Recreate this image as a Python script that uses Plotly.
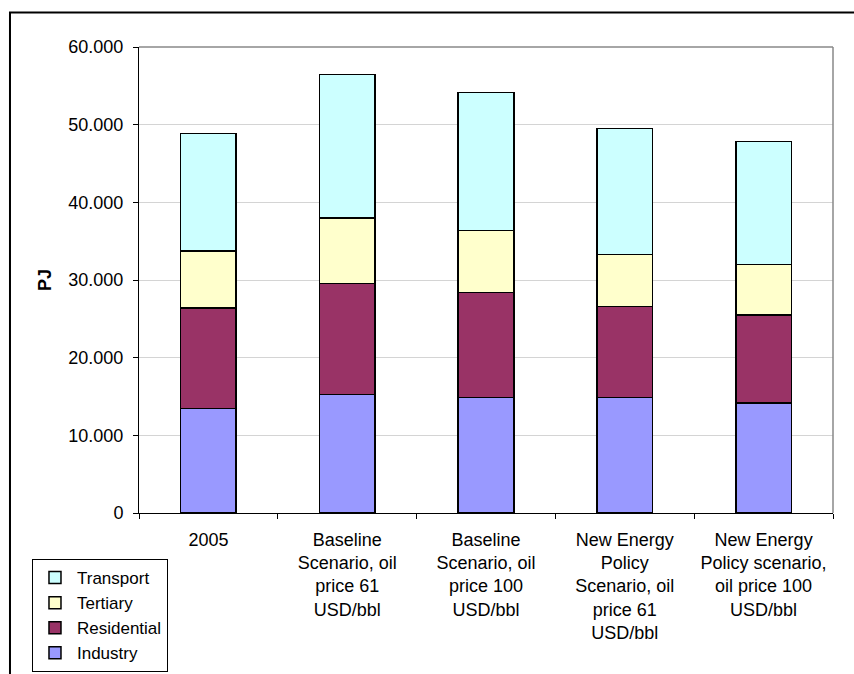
import plotly.graph_objects as go

categories = [
    "2005",
    "Baseline<br>Scenario, oil<br>price 61<br>USD/bbl",
    "Baseline<br>Scenario, oil<br>price 100<br>USD/bbl",
    "New Energy<br>Policy<br>Scenario, oil<br>price 61<br>USD/bbl",
    "New Energy<br>Policy scenario,<br>oil price 100<br>USD/bbl",
]
industry = [13480, 15280, 14850, 14850, 14160]
residential = [12910, 14240, 13560, 11760, 11330]
tertiary = [7340, 8460, 7990, 6700, 6480]
transport = [15160, 18450, 17760, 16220, 15840]

series = [
    ("Industry", industry, "#9999FF"),
    ("Residential", residential, "#993366"),
    ("Tertiary", tertiary, "#FFFFCC"),
    ("Transport", transport, "#CCFFFF"),
]

FONT = "Liberation Sans, Arial, sans-serif"

fig = go.Figure()
for name, vals, col in series:
    fig.add_trace(go.Bar(
        x=categories, y=vals, name=name,
        marker=dict(color=col, line=dict(color="black", width=1.5)),
    ))

fig.update_layout(
    barmode="stack",
    bargap=0.6,
    width=854, height=674,
    margin=dict(l=139, r=21, t=47, b=161, autoexpand=False),
    paper_bgcolor="white",
    plot_bgcolor="white",
    separators=",.",
    font=dict(family=FONT, size=18, color="black"),
    showlegend=True,
    legend=dict(
        traceorder="reversed",
        x=-0.1542, y=-0.0987, xanchor="left", yanchor="top",
        bgcolor="white", bordercolor="black", borderwidth=1,
        font=dict(family=FONT, size=17, color="black"),
        itemwidth=34,
        tracegroupgap=0,
    ),
    xaxis=dict(
        showline=True, linecolor="black", linewidth=1,
        ticks="outside", tickson="boundaries", ticklen=5, tickcolor="black",
        ticklabelstandoff=10,
        tickfont=dict(size=18),
        showgrid=False,
    ),
    yaxis=dict(
        range=[0, 60000], dtick=10000, tickformat=",.0f",
        showline=True, linecolor="black", linewidth=1,
        ticks="outside", ticklen=5, tickcolor="black",
        ticklabelstandoff=6,
        showgrid=True, gridcolor="#d4d4d4", gridwidth=1,
        zeroline=False,
        tickfont=dict(size=18),
        title=dict(text="<b>PJ</b>", font=dict(size=18), standoff=12),
    ),
    shapes=[
        dict(type="line", xref="paper", yref="paper", x0=0, x1=1, y0=1, y1=1,
             line=dict(color="#888888", width=1.5)),
        dict(type="line", xref="paper", yref="paper", x0=1, x1=1, y0=0, y1=1,
             line=dict(color="#888888", width=1.5)),
        dict(type="rect", xref="paper", yref="paper", x0=-0.1859, x1=1.3,
             y0=-0.6, y1=1.0741, line=dict(color="black", width=2),
             fillcolor="rgba(0,0,0,0)", layer="below"),
    ],
)

fig.write_html("out.html")
